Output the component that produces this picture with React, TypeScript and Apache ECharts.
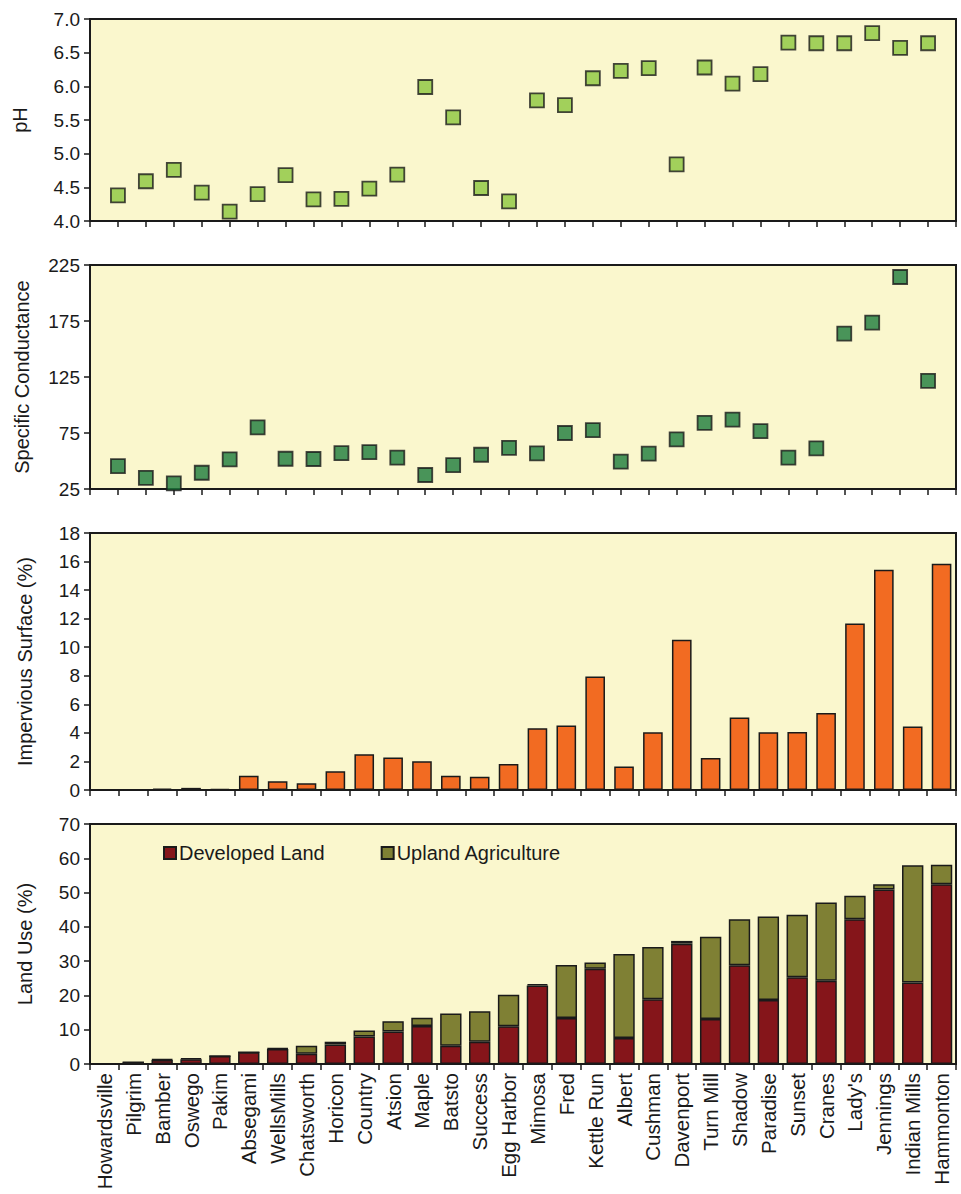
import React, { useEffect, useRef } from "react";
import * as echarts from "echarts";

const categories = [
  "Howardsville", "Pilgrim", "Bamber", "Oswego", "Pakim", "Absegami", "WellsMills",
  "Chatsworth", "Horicon", "Country", "Atsion", "Maple", "Batsto", "Success",
  "Egg Harbor", "Mimosa", "Fred", "Kettle Run", "Albert", "Cushman", "Davenport",
  "Turn Mill", "Shadow", "Paradise", "Sunset", "Cranes", "Lady's", "Jennings",
  "Indian Mills", "Hammonton",
];

const phValues = [
  4.38, 4.59, 4.76, 4.42, 4.14, 4.4, 4.68, 4.32, 4.33, 4.48, 4.69, 5.99, 5.54, 4.49,
  4.29, 5.79, 5.72, 6.12, 6.23, 6.27, 4.84, 6.28, 6.04, 6.18, 6.65, 6.64, 6.64, 6.79,
  6.57, 6.64,
];

const conductance = [
  45.5, 35, 30, 39.5, 51.5, 80, 52, 51.8, 57, 58, 53, 37.5, 46.4, 55.6, 61.8, 56.8, 75,
  77.6, 49.4, 56.5, 69.3, 84, 87, 76.7, 53, 61.3, 163.8, 173.6, 214.3, 121.6,
];

const impervious = [
  0, 0.05, 0.1, 0.15, 0.08, 1.0, 0.61, 0.47, 1.31, 2.5, 2.27, 2.01, 1.0, 0.93, 1.82,
  4.33, 4.51, 7.95, 1.64, 4.04, 10.52, 2.24, 5.07, 4.04, 4.07, 5.4, 11.66, 15.43, 4.44,
  15.85,
];

const developedLand = [
  0, 0.5, 1.2, 1.4, 2.3, 3.4, 4.4, 3.0, 5.7, 8.0, 9.5, 11.1, 5.3, 6.5, 11.0, 22.9, 13.4,
  27.8, 7.6, 18.9, 35.1, 13.1, 28.8, 18.7, 25.3, 24.3, 42.2, 50.9, 23.8, 52.4,
];

const uplandAgriculture = [
  0, 0, 0.2, 0.3, 0, 0, 0.2, 2.3, 0.8, 1.8, 3.0, 2.4, 9.4, 8.9, 9.2, 0.4, 15.5, 1.8,
  24.5, 15.2, 0.8, 24.0, 13.4, 24.3, 18.2, 22.8, 6.9, 1.5, 34.2, 5.7,
];

const FONT = "Liberation Sans, Arial, Helvetica, sans-serif";
const INK = "#1a1a1a";
const PLOT_BG = "#FAF7CD";

export default function App() {
  const ref = useRef<HTMLDivElement>(null);

  useEffect(() => {
    document.body.style.margin = "0";
    if (!ref.current) return;
    const chart = echarts.init(ref.current, undefined, { renderer: "svg" });

    const grids = [
      { top: 19, height: 202 },
      { top: 265, height: 224 },
      { top: 533, height: 257 },
      { top: 824, height: 240 },
    ].map((g) => ({
      left: 90,
      right: 5,
      top: g.top,
      height: g.height,
      show: true,
      backgroundColor: PLOT_BG,
      borderColor: INK,
      borderWidth: 2,
      containLabel: false,
    }));

    const axisLine = { show: true, lineStyle: { color: INK, width: 2 } };
    const axisTick = { show: true, inside: false, length: 6, lineStyle: { color: INK, width: 1.5 } };
    const yLabel = { color: INK, fontSize: 19, fontFamily: FONT, margin: 10 };
    const yName = (name: string, gap: number) => ({
      name,
      nameLocation: "middle",
      nameGap: gap,
      nameRotate: 90,
      nameTextStyle: { color: INK, fontSize: 20, fontFamily: FONT },
    });

    const valueX = (gridIndex: number) => ({
      type: "value",
      gridIndex,
      min: 0,
      max: categories.length + 1,
      interval: 1,
      axisLine,
      axisTick,
      axisLabel: { show: false },
      splitLine: { show: false },
    });

    const catX = (gridIndex: number, showLabels: boolean) => ({
      type: "category",
      gridIndex,
      data: categories,
      axisLine,
      axisTick: { ...axisTick, alignWithLabel: false, interval: 0 },
      axisLabel: showLabels
        ? { show: true, rotate: 90, interval: 0, color: INK, fontSize: 20.5, fontFamily: FONT, margin: 9 }
        : { show: false },
      splitLine: { show: false },
    });

    const squareStyle = (color: string) => ({ color, borderColor: INK, borderWidth: 1.8 });

    const option = {
      animation: false,
      backgroundColor: "#ffffff",
      textStyle: { fontFamily: FONT },
      grid: grids,
      legend: {
        show: true,
        left: 158,
        top: 838,
        itemWidth: 12,
        itemHeight: 12,
        itemGap: 56,
        icon: "rect",
        textStyle: { color: INK, fontSize: 20, fontFamily: FONT, padding: [0, 0, 0, -2] },
        data: ["Developed Land", "Upland Agriculture"],
      },
      xAxis: [valueX(0), valueX(1), catX(2, false), catX(3, true)],
      yAxis: [
        {
          type: "value",
          gridIndex: 0,
          min: 4,
          max: 7,
          interval: 0.5,
          axisLine,
          axisTick,
          axisLabel: { ...yLabel, formatter: (v: number) => v.toFixed(1) },
          splitLine: { show: false },
          ...yName("pH", 60),
        },
        {
          type: "value",
          gridIndex: 1,
          min: 25,
          max: 225,
          interval: 50,
          axisLine,
          axisTick,
          axisLabel: yLabel,
          splitLine: { show: false },
          ...yName("Specific Conductance", 58),
        },
        {
          type: "value",
          gridIndex: 2,
          min: 0,
          max: 18,
          interval: 2,
          axisLine,
          axisTick,
          axisLabel: yLabel,
          splitLine: { show: false },
          ...yName("Impervious Surface (%)", 55),
        },
        {
          type: "value",
          gridIndex: 3,
          min: 0,
          max: 70,
          interval: 10,
          axisLine,
          axisTick,
          axisLabel: yLabel,
          splitLine: { show: false },
          ...yName("Land Use (%)", 55),
        },
      ],
      series: [
        {
          name: "pH",
          type: "scatter",
          xAxisIndex: 0,
          yAxisIndex: 0,
          symbol: "rect",
          symbolSize: 14,
          itemStyle: squareStyle("#8CC63F"),
          data: phValues.map((v, i) => [i + 1, v]),
        },
        {
          name: "Specific Conductance",
          type: "scatter",
          xAxisIndex: 1,
          yAxisIndex: 1,
          symbol: "rect",
          symbolSize: 14,
          itemStyle: squareStyle("#1D7A3C"),
          data: conductance.map((v, i) => [i + 1, v]),
        },
        {
          name: "Impervious Surface",
          type: "bar",
          xAxisIndex: 2,
          yAxisIndex: 2,
          barCategoryGap: "32%",
          itemStyle: { color: "#F26B22", borderColor: INK, borderWidth: 1.5 },
          data: impervious,
        },
        {
          name: "Developed Land",
          type: "bar",
          stack: "land",
          xAxisIndex: 3,
          yAxisIndex: 3,
          barCategoryGap: "26%",
          itemStyle: { color: "#85151A", borderColor: INK, borderWidth: 1.5 },
          data: developedLand,
        },
        {
          name: "Upland Agriculture",
          type: "bar",
          stack: "land",
          xAxisIndex: 3,
          yAxisIndex: 3,
          barCategoryGap: "26%",
          itemStyle: { color: "#7F8034", borderColor: INK, borderWidth: 1.5 },
          data: uplandAgriculture,
        },
      ],
    };

    chart.setOption(option as any);
    return () => chart.dispose();
  }, []);

  return <div ref={ref} style={{ width: 961, height: 1194 }} />;
}
